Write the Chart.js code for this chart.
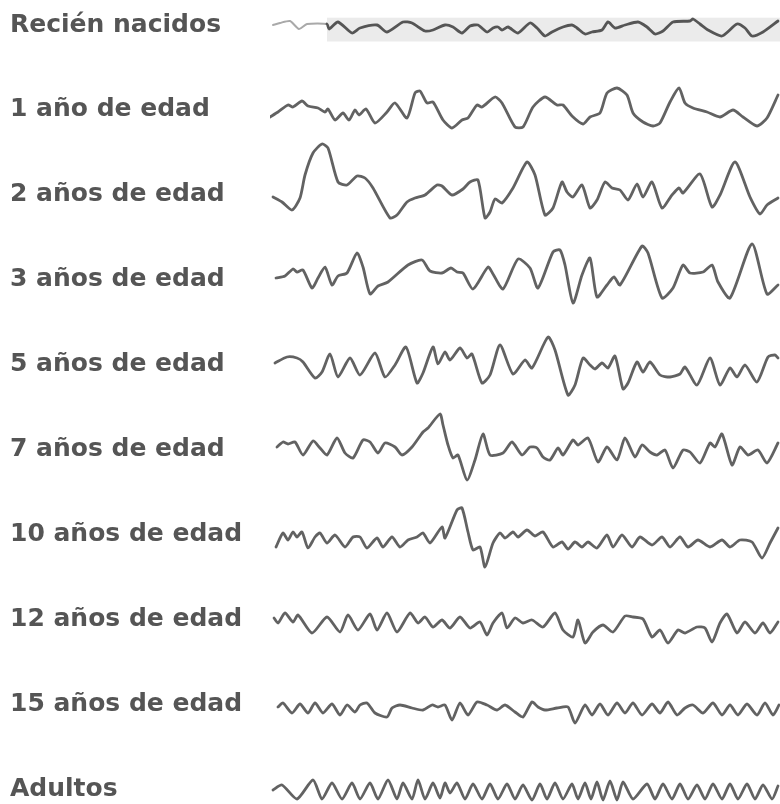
<!DOCTYPE html>
<html lang="es">
<head>
<meta charset="utf-8">
<title>EEG según la edad</title>
<script src="https://cdn.jsdelivr.net/npm/chart.js@4.4.1/dist/chart.umd.min.js"></script>
<style>
  html, body { margin: 0; padding: 0; background: #ffffff; }
  canvas { display: block; }
</style>
</head>
<body>
<canvas id="eeg" width="780" height="804"></canvas>
<script>
// Row labels, top to bottom
const etiquetas = [
  'Recién nacidos', '1 año de edad', '2 años de edad', '3 años de edad',
  '5 años de edad', '7 años de edad', '10 años de edad', '12 años de edad',
  '15 años de edad', 'Adultos'
];

// Each trace: sample times (T) and deflections (V, up = positive)
const recienNacidosT = [3,10,20,29,37,57,59,68,82,90,107,117,133,142,155,163,175,183,192,200,208,217,223,228,232,238,248,260,267,275,282,293,302,307,315,322,332,338,345,355,368,377,385,393,403,420,423,430,438,452,467,475,482,493,508];
const recienNacidosV = [2,4,6,-2,3,3,-2,5,-6,-1,2,-5,5,4,-4,-3,2,0,-6,1,2,-5,-1,0,-3,0,-6,4,-1,-9,-5,0,2,-1,-7,-5,-3,5,-1,2,5,0,-7,-4,5,6,8,3,-3,-9,3,-1,-9,-5,6];

const unAnioT = [0,8,18,23,32,38,48,55,58,65,73,79,85,89,96,105,117,125,137,145,150,157,163,173,182,192,198,207,212,225,232,245,253,263,275,287,293,302,313,320,330,337,347,357,363,373,383,390,400,409,415,423,437,450,463,473,487,497,508];
const unAnioV = [-5,0,7,5,11,6,4,0,3,-8,-1,-8,2,-3,3,-11,0,9,-6,19,21,9,10,-8,-16,-8,-6,7,5,15,9,-15,-15,5,15,7,7,-4,-12,-5,-1,19,24,17,-1,-10,-14,-11,10,24,9,4,0,-5,2,-5,-14,-6,17];

const dosAniosT = [3,12,22,30,35,43,52,58,68,77,87,95,103,120,127,137,145,155,167,172,182,193,200,208,215,220,225,232,243,257,265,275,283,292,297,303,312,320,327,335,342,350,358,367,373,382,392,402,409,413,430,442,450,465,480,490,497,508];
const dosAniosV = [0,-5,-13,-1,22,44,53,49,15,12,21,19,9,-21,-18,-5,-1,2,12,11,2,8,15,17,-21,-15,-2,-6,9,35,22,-18,-11,15,5,0,12,-11,-3,15,9,7,-3,13,0,15,-11,2,9,4,23,-10,2,35,0,-17,-8,-1];

const tresAniosT = [6,15,23,27,33,42,48,55,62,68,77,87,93,100,108,118,138,152,160,172,181,187,193,203,218,223,233,248,260,268,283,290,295,303,312,320,327,337,344,350,372,378,392,403,413,420,433,442,448,460,482,497,508];
const tresAniosV = [4,6,13,10,12,-6,4,15,-3,6,9,29,15,-12,-4,0,17,22,11,9,14,10,9,-7,15,8,-7,23,14,-6,30,32,17,-21,7,24,-15,-3,5,-3,36,29,-16,-6,17,9,10,17,0,-16,38,-12,-3];

const cincoAniosT = [5,17,27,33,45,52,60,68,80,90,105,115,125,136,147,153,163,168,175,180,190,197,202,212,220,230,243,255,262,278,285,298,305,313,320,325,332,338,345,353,358,367,373,380,390,400,410,415,427,440,450,460,467,475,487,498,505,508];
const cincoAniosV = [4,10,9,5,-11,-5,13,-10,9,-8,14,-10,2,20,-16,-6,20,3,15,7,19,9,13,-16,-8,22,-7,7,-1,30,17,-28,-18,9,2,-2,4,-1,11,-22,-16,5,-5,5,-8,-10,-7,0,-18,9,-18,-1,-10,2,-15,10,12,9];

const sieteAniosT = [7,13,18,25,33,43,50,57,67,75,83,93,100,108,115,125,132,142,153,158,170,173,178,183,188,197,205,213,220,233,242,252,260,267,273,280,288,293,303,308,318,328,337,347,355,365,372,380,387,395,403,413,420,430,440,445,452,462,470,478,488,497,508];
const sieteAniosV = [5,10,8,10,-3,11,4,-3,14,-1,-6,12,10,-1,9,5,-3,5,20,24,38,27,7,-6,-3,-28,-8,18,-3,-1,10,-3,5,4,-5,-8,4,-3,12,7,14,-10,5,-8,14,-5,7,0,-3,2,-16,2,0,-11,9,5,18,-13,5,-3,2,-11,9];

const diezAniosT = [6,13,18,23,27,32,38,45,50,57,65,75,83,90,97,107,113,122,130,138,147,153,160,172,175,187,192,198,203,210,215,223,230,235,243,248,257,265,273,283,292,298,305,312,318,327,337,343,352,362,370,382,392,400,410,418,428,440,452,460,470,482,492,500,508];
const diezAniosV = [-10,4,-3,5,0,5,-11,0,4,-6,2,-10,0,0,-11,-1,-10,0,-10,-3,0,4,-6,10,-1,27,29,5,-13,-10,-30,-6,4,-1,5,0,7,1,5,-10,-5,-12,-5,-10,-5,-11,2,-10,2,-10,0,-8,0,-10,0,-10,-3,-10,-3,-10,-3,-5,-21,-6,9];

const doceAniosT = [4,8,15,23,28,42,57,70,78,88,100,107,117,127,140,148,155,163,172,180,190,200,210,217,223,232,237,245,253,262,273,285,293,303,308,315,323,333,343,355,363,373,382,390,398,408,415,427,435,442,450,457,467,475,485,493,500,508];
const doceAniosV = [4,-1,9,0,7,-11,5,-10,7,-8,8,-8,9,-10,9,-1,5,-5,2,-6,5,-6,0,-13,-1,9,-6,4,-1,2,-5,9,-8,-15,2,-21,-10,-3,-10,6,5,3,-15,-8,-21,-8,-11,-5,-6,-20,-1,8,-11,0,-11,-1,-11,0];

const quinceAniosT = [8,13,22,30,38,45,53,62,70,77,85,90,97,105,117,122,130,142,153,162,168,175,182,190,198,207,217,227,235,245,253,262,268,275,287,298,305,315,322,330,338,347,355,363,372,382,390,398,407,415,423,433,443,452,460,468,477,487,495,503,509];
const quinceAniosV = [0,4,-6,3,-6,4,-6,3,-8,2,-5,2,4,-6,-10,-1,2,-1,-3,2,0,2,-13,4,-8,5,2,-3,2,-5,-10,5,0,-3,-1,0,-16,2,-8,3,-8,4,-6,4,-8,3,-6,5,-8,-1,2,-6,4,-8,2,-8,3,-8,4,-8,2];

const adultosT = [3,12,27,43,52,62,72,82,90,100,108,118,127,133,142,148,155,163,170,175,180,187,195,203,212,220,228,237,245,253,262,270,277,285,293,302,308,315,321,327,333,340,347,353,363,377,385,393,402,410,418,427,435,443,452,460,468,477,485,493,502,508];
const adultosV = [2,7,-7,12,-7,9,-7,9,-7,9,-7,12,-7,9,-7,12,-7,9,-6,9,-1,9,-7,8,-7,8,-7,8,-7,7,-8,8,-7,9,-7,8,-7,9,-7,10,-8,11,-8,10,-7,8,-7,8,-7,8,-7,7,-7,8,-7,8,-7,8,-7,7,-7,6];

const trazos = [
  [recienNacidosT, recienNacidosV], [unAnioT, unAnioV], [dosAniosT, dosAniosV],
  [tresAniosT, tresAniosV], [cincoAniosT, cincoAniosV], [sieteAniosT, sieteAniosV],
  [diezAniosT, diezAniosV], [doceAniosT, doceAniosV], [quinceAniosT, quinceAniosV],
  [adultosT, adultosV]
];

// Vertical layout: each trace's baseline, and each row label's centre, on the shared y scale
const FILA_INICIO = 27;
const FILA_PASO = 85;
const centroFila = i => FILA_INICIO + FILA_PASO * i;
const ETIQUETA_INICIO = 25;
const ETIQUETA_PASO = 84.9;
const centroEtiqueta = i => ETIQUETA_INICIO + ETIQUETA_PASO * i;

// Faint start of the newborn recording, before the darker section
const INICIO_OSCURO = 57;
const colorTrazo = '#626262';

const datasets = trazos.map(([t, v], i) => {
  const ds = {
    label: etiquetas[i],
    data: t.map((x, k) => ({ x, y: centroFila(i) - v[k] })),
    borderColor: colorTrazo,
    borderWidth: 2.8,
    pointRadius: 0,
    tension: 0.22,
    borderJoinStyle: 'round',
    borderCapStyle: 'round',
    fill: false
  };
  if (i === 0) {
    ds.borderColor = '#555555';
    ds.segment = {
      borderColor: c => c.p1.parsed.x <= INICIO_OSCURO ? '#a9a9a9' : '#555555',
      borderWidth: c => c.p1.parsed.x <= INICIO_OSCURO ? 2 : 2.8
    };
  }
  return ds;
});

// Light grey strip behind the newborn recording
const franjaRecienNacidos = {
  id: 'franjaRecienNacidos',
  beforeDatasetsDraw(chart) {
    const { ctx, scales: { x, y } } = chart;
    const x0 = x.getPixelForValue(INICIO_OSCURO);
    const x1 = x.getPixelForValue(x.max);
    const y0 = y.getPixelForValue(centroFila(0) - 9.3);
    const y1 = y.getPixelForValue(centroFila(0) + 14.5);
    ctx.save();
    ctx.fillStyle = '#ebebeb';
    ctx.fillRect(x0, y0, x1 - x0, y1 - y0);
    ctx.restore();
  }
};

new Chart(document.getElementById('eeg'), {
  type: 'line',
  data: { datasets },
  plugins: [franjaRecienNacidos],
  options: {
    responsive: false,
    animation: false,
    devicePixelRatio: 1,
    layout: { padding: { left: 10, right: 0, top: 0, bottom: 0 } },
    plugins: { legend: { display: false }, tooltip: { enabled: false } },
    scales: {
      x: { type: 'linear', min: 0, max: 510, display: false },
      y: {
        type: 'linear',
        reverse: true,
        min: 0,
        max: 804,
        grid: { display: false },
        border: { display: false },
        afterBuildTicks: s => { s.ticks = etiquetas.map((_, i) => ({ value: centroEtiqueta(i) })); },
        afterFit: s => { s.width = 260; s.paddingTop = 0; s.paddingBottom = 0; },
        ticks: {
          autoSkip: false,
          crossAlign: 'far',
          padding: 0,
          color: '#555555',
          font: { family: "'DejaVu Sans', sans-serif", size: 25, weight: 'bold' },
          callback: (v, i) => etiquetas[i]
        }
      }
    }
  }
});
</script>
</body>
</html>
